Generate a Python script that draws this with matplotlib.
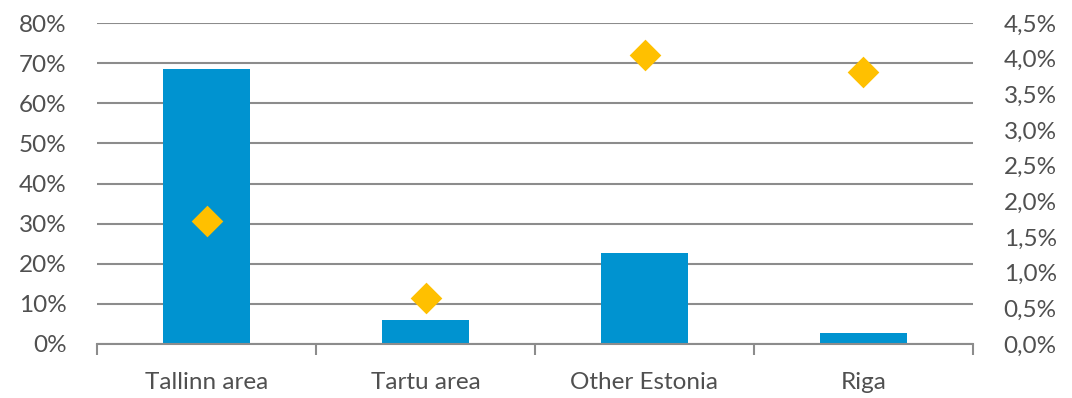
import matplotlib
matplotlib.use("Agg")
import matplotlib.pyplot as plt
from matplotlib.ticker import FuncFormatter, FixedLocator

categories = ["Tallinn area", "Tartu area", "Other Estonia", "Riga"]
share_pct = [68.5, 6.0, 22.6, 2.8]          # left axis, bars
rate_pct = [1.73, 0.64, 4.05, 3.81]         # right axis, diamonds
left_ticks = [0, 10, 20, 30, 40, 50, 60, 70, 80]
right_ticks = [0.0, 0.5, 1.0, 1.5, 2.0, 2.5, 3.0, 3.5, 4.0, 4.5]

plt.rcParams['font.family'] = ['Lato', 'DejaVu Sans']
text_col = "#505050"
grid_col = "#8c8c8c"
fs = 17.5

fig = plt.figure(figsize=(10.72, 3.98), dpi=100)
ax = fig.add_axes([97/1072, 1 - 344/398, 876/1072, 321/398])
x = list(range(len(categories)))
ax.bar(x, share_pct, width=0.4, color="#0093D0", zorder=2)
ax.set_xlim(-0.5, len(categories) - 0.5)
ax.set_ylim(0, 80)
ax.yaxis.set_major_locator(FixedLocator(left_ticks))
ax.yaxis.set_major_formatter(FuncFormatter(lambda v, p: f"{int(v)}%"))
ax.grid(axis='y', color=grid_col, linewidth=1.5, zorder=0)
for s in ['top', 'left', 'right']:
    ax.spines[s].set_visible(False)
ax.spines['bottom'].set_color(grid_col)
ax.spines['bottom'].set_linewidth(1.5)
ax.tick_params(axis='y', length=0, labelsize=fs, labelcolor=text_col, pad=22)
# category ticks at boundaries
ax.set_xticks([i - 0.5 for i in range(len(categories) + 1)])
ax.set_xticklabels([])
ax.set_xticks(x, minor=True)
ax.set_xticklabels(categories, minor=True)
ax.tick_params(axis='x', which='major', length=8, width=1.5, color=grid_col, direction='out')
ax.tick_params(axis='x', which='minor', length=0, labelsize=fs, labelcolor=text_col, pad=20)

ax2 = ax.twinx()
ax2.set_ylim(0, 4.5)
ax2.yaxis.set_major_locator(FixedLocator(right_ticks))
ax2.yaxis.set_major_formatter(FuncFormatter(lambda v, p: f"{v:.1f}%".replace('.', ',')))
ax2.scatter(x, rate_pct, marker='D', s=260, color="#FFC000", zorder=3, linewidths=0)
for s in ['top', 'left', 'right', 'bottom']:
    ax2.spines[s].set_visible(False)
ax2.tick_params(axis='y', length=0, labelsize=fs, labelcolor=text_col, pad=22)

fig.savefig("out.png", dpi=100)
